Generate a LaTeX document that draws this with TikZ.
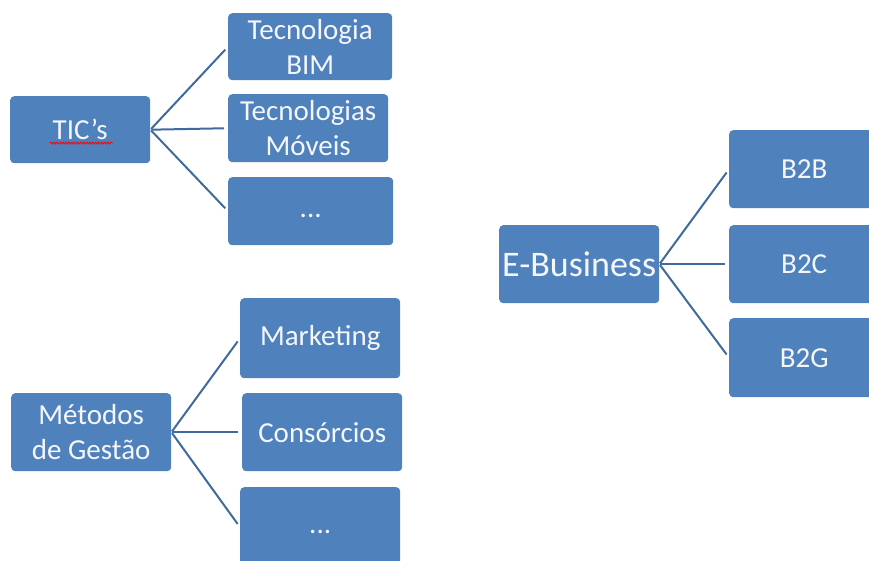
\documentclass[tikz,border=0pt]{standalone}
\usepackage{fontspec}
\setmainfont{Carlito}
\usetikzlibrary{decorations.pathmorphing}
\definecolor{boxblue}{HTML}{4F81BD}
\definecolor{lineblue}{HTML}{3F6A9E}
\definecolor{txtwhite}{HTML}{F4F6FA}
\tikzset{
  boxnode/.style={draw=none, fill=boxblue, rounded corners=4pt, anchor=north west,
    text=txtwhite, align=center, inner sep=0pt, font=\fontsize{29}{35}\selectfont},
  link/.style={draw=lineblue, line width=2pt, shorten >=4pt, shorten <=1pt}
}
\newcommand{\lowdots}{\smash{\raisebox{-6pt}{...}}}
\begin{document}
\begin{tikzpicture}[x=1pt,y=-1pt]
\useasboundingbox (0,0) rectangle (869,560);
\clip (0,0) rectangle (869,560);
% TIC's group
\node[boxnode, minimum width=140pt, minimum height=67pt] (tic) at (10,96) {TIC’s};
\node[boxnode, minimum width=164pt, minimum height=67pt] (bim) at (228,13) {Tecnologia\\BIM};
\node[boxnode, minimum width=160pt, minimum height=68pt] (mov) at (228,94) {Tecnologias\\Móveis};
\node[boxnode, minimum width=165pt, minimum height=68pt] (dots1) at (228,177) {\lowdots};
% Métodos group
\node[boxnode, minimum width=160pt, minimum height=78pt] (met) at (11,393) {Métodos\\de Gestão};
\node[boxnode, minimum width=160pt, minimum height=80pt] (mkt) at (240,298) {Marketing};
\node[boxnode, minimum width=160pt, minimum height=78pt] (con) at (242,393) {Consórcios};
\node[boxnode, minimum width=160pt, minimum height=80pt] (dots2) at (240,487) {\lowdots};
% E-Business group
\node[boxnode, minimum width=160pt, minimum height=78pt, font=\fontsize{36}{42}\selectfont] (eb) at (499,225) {E-Business};
\node[boxnode, minimum width=150pt, minimum height=78pt] (b2b) at (729,130) {B2B};
\node[boxnode, minimum width=150pt, minimum height=78pt] (b2c) at (729,225) {B2C};
\node[boxnode, minimum width=150pt, minimum height=79pt] (b2g) at (729,318) {B2G};
% spell-check squiggle
\coordinate (sqa) at (50,143);
\coordinate (sqb) at (113,143);
\draw[red, line width=0.8pt, decorate, decoration={snake, amplitude=1pt, segment length=3pt}] (sqa) -- (sqb);
% connectors
\foreach \c in {bim,mov,dots1} \draw[link] (tic.east) -- (\c.west);
\foreach \c in {mkt,con,dots2} \draw[link] (met.east) -- (\c.west);
\foreach \c in {b2b,b2c,b2g} \draw[link] (eb.east) -- (\c.west);
\end{tikzpicture}
\end{document}
